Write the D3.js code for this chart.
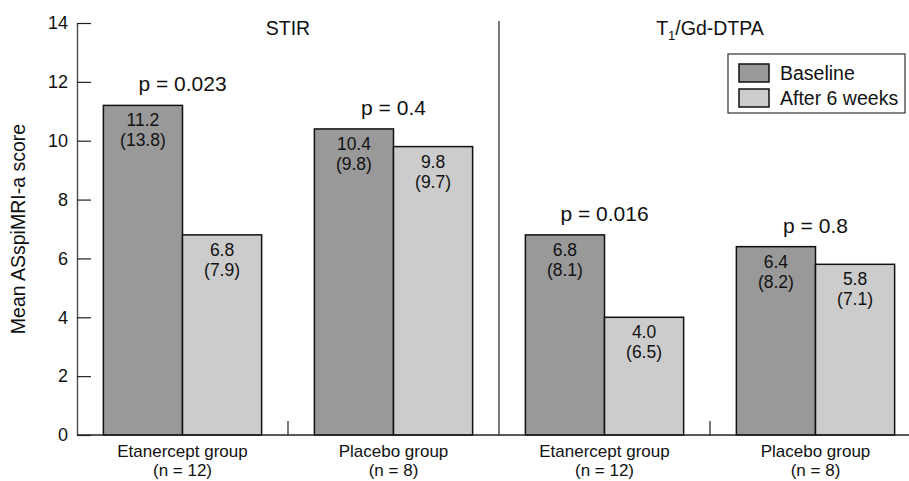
<!DOCTYPE html>
<html>
<head>
<meta charset="utf-8">
<script src="https://cdn.jsdelivr.net/npm/d3@7"></script>
<style>
  html, body { margin: 0; padding: 0; background: #fff; }
  svg { display: block; }
  text { font-family: "Liberation Sans", Arial, sans-serif; fill: #111; }
</style>
</head>
<body>
<svg id="chart" width="909" height="481"></svg>
<script>
// ---- data ----
const groupNames = ["Etanercept group", "Placebo group", "Etanercept group", "Placebo group"];
const groupN = ["(n = 12)", "(n = 8)", "(n = 12)", "(n = 8)"];
const panelNames = ["STIR", "T1/Gd-DTPA"];
const seriesNames = ["Baseline", "After 6 weeks"];
const baselineMean = [11.2, 10.4, 6.8, 6.4];
const baselineSD = [13.8, 9.8, 8.1, 8.2];
const afterMean = [6.8, 9.8, 4.0, 5.8];
const afterSD = [7.9, 9.7, 6.5, 7.1];
const pLabels = ["p = 0.023", "p = 0.4", "p = 0.016", "p = 0.8"];
const yTicks = [0, 2, 4, 6, 8, 10, 12, 14];
const yTitle = "Mean ASspiMRI-a score";

const colors = { "Baseline": "#999999", "After 6 weeks": "#cccccc" };

const svg = d3.select("#chart");
const W = 909, H = 481;
const mL = 77, mR = 921, mT = 23, mB = 435;

const x = d3.scaleBand().domain(d3.range(groupNames.length)).range([mL, mR]).padding(0);
const bw = x.bandwidth();
const xi = d3.scaleBand().domain(seriesNames).range([bw * 0.125, bw * 0.875]).padding(0);
const y = d3.scaleLinear().domain([0, 14]).range([mB, mT]);

const rows = groupNames.map((g, i) => ({
  i, name: g, n: groupN[i], p: pLabels[i],
  vals: [
    { s: "Baseline", v: baselineMean[i], sd: baselineSD[i] },
    { s: "After 6 weeks", v: afterMean[i], sd: afterSD[i] }
  ]
}));

// y axis
const yAxis = d3.axisLeft(y).tickValues(yTicks).tickSizeInner(-14).tickSizeOuter(0).tickPadding(9);
const gy = svg.append("g").attr("transform", `translate(${mL},0)`).call(yAxis);
gy.select(".domain").attr("stroke", "#555").attr("stroke-width", 1.5);
gy.selectAll(".tick line").attr("stroke", "#222").attr("stroke-width", 1.2);
gy.selectAll(".tick text").attr("font-size", 18).attr("font-family", "Liberation Sans, Arial, sans-serif").attr("fill", "#111");

// y title
svg.append("text")
  .attr("transform", `translate(25,${(mT + mB) / 2}) rotate(-90)`)
  .attr("text-anchor", "middle")
  .attr("font-size", 19.5)
  .text(yTitle);

// bars
const g = svg.selectAll(".grp").data(rows).enter().append("g")
  .attr("transform", d => `translate(${x(d.i)},0)`);

g.selectAll("rect").data(d => d.vals).enter().append("rect")
  .attr("x", d => xi(d.s))
  .attr("y", d => y(d.v))
  .attr("width", xi.bandwidth())
  .attr("height", d => y(0) - y(d.v))
  .attr("fill", d => colors[d.s])
  .attr("stroke", "#111")
  .attr("stroke-width", 1.5);

g.selectAll(".vl").data(d => d.vals).enter().append("text")
  .attr("class", "vl")
  .attr("x", d => xi(d.s) + xi.bandwidth() / 2)
  .attr("y", d => y(d.v) + 21)
  .attr("text-anchor", "middle")
  .attr("font-size", 17.5)
  .text(d => d.v.toFixed(1));

g.selectAll(".sl").data(d => d.vals).enter().append("text")
  .attr("class", "sl")
  .attr("x", d => xi(d.s) + xi.bandwidth() / 2)
  .attr("y", d => y(d.v) + 41)
  .attr("text-anchor", "middle")
  .attr("font-size", 17.5)
  .text(d => `(${d.sd.toFixed(1)})`);

// p labels
g.append("text")
  .attr("x", bw / 2)
  .attr("y", d => y(d3.max(d.vals, v => v.v)) - 14)
  .attr("text-anchor", "middle")
  .attr("font-size", 21)
  .text(d => d.p);

// x axis baseline
svg.append("line").attr("x1", mL).attr("x2", W).attr("y1", mB).attr("y2", mB)
  .attr("stroke", "#222").attr("stroke-width", 1.5);

// group tick marks between groups
[1, 3].forEach(i => {
  svg.append("line").attr("x1", x(i)).attr("x2", x(i)).attr("y1", mB - 14).attr("y2", mB)
    .attr("stroke", "#222").attr("stroke-width", 1.2);
});
// panel separator
svg.append("line").attr("x1", x(2)).attr("x2", x(2)).attr("y1", 21).attr("y2", mB)
  .attr("stroke", "#222").attr("stroke-width", 1.2);

// x labels
g.append("text").attr("x", bw / 2).attr("y", 457).attr("text-anchor", "middle").attr("font-size", 17).text(d => d.name);
g.append("text").attr("x", bw / 2).attr("y", 476).attr("text-anchor", "middle").attr("font-size", 17).text(d => d.n);

// panel titles
const p0 = (x(0) + x(1) + bw) / 2;
const p1 = (x(2) + x(3) + bw) / 2;
svg.append("text").attr("x", p0).attr("y", 35).attr("text-anchor", "middle").attr("font-size", 19.5).text(panelNames[0]);
const t1 = svg.append("text").attr("x", p1).attr("y", 35).attr("text-anchor", "middle").attr("font-size", 19.5);
t1.append("tspan").text("T");
t1.append("tspan").attr("font-size", 13).attr("dy", 5).text("1");
t1.append("tspan").attr("dy", -5).text("/Gd-DTPA");

// legend
const lg = svg.append("g");
lg.append("rect").attr("x", 728).attr("y", 54).attr("width", 177).attr("height", 59)
  .attr("fill", "#fff").attr("stroke", "#333").attr("stroke-width", 1.2);
seriesNames.forEach((s, i) => {
  lg.append("rect").attr("x", 739).attr("y", 64 + i * 25).attr("width", 30).attr("height", 18)
    .attr("fill", colors[s]).attr("stroke", "#111").attr("stroke-width", 1.5);
  lg.append("text").attr("x", 780).attr("y", 80 + i * 25).attr("font-size", 19.5).text(s);
});
</script>
</body>
</html>
